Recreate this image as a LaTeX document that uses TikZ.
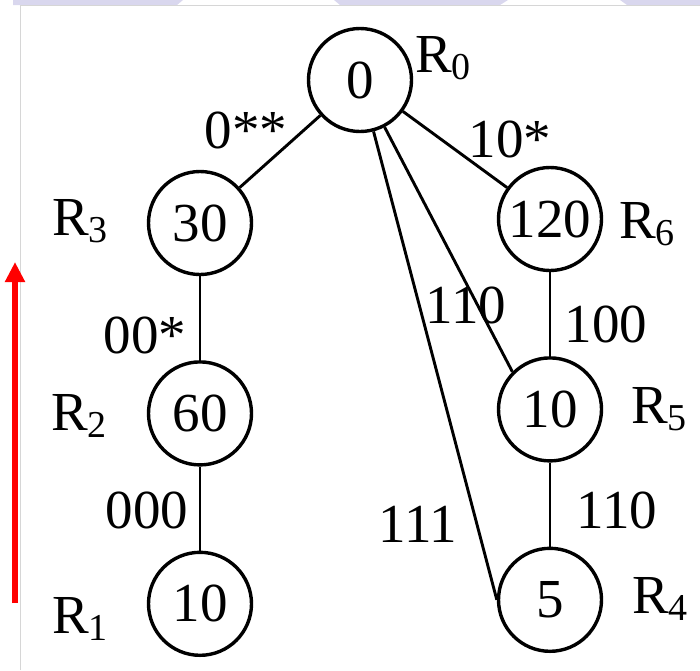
\documentclass[tikz,border=0pt]{standalone}
\usepackage{fontspec}
\setmainfont{Liberation Serif}
\usetikzlibrary{arrows.meta,positioning}
\definecolor{TabLav}{HTML}{D9D7EE}
\definecolor{FrameGray}{HTML}{D6D6D6}
\newcommand{\rsub}[1]{R\raisebox{-7pt}{\fontsize{38}{40}\selectfont #1}}
\tikzset{>=Stealth,every node/.style={font=\fontsize{55}{60}\selectfont},
 rnode/.style={circle,draw,line width=3.4pt,minimum size=103pt,inner sep=0pt},
 link/.style={draw,line width=2.9pt},tag/.style={anchor=base west,inner sep=0pt},
 bits/.style={anchor=base,inner sep=0pt}}

\begin{document}
\begin{tikzpicture}[x=1pt,y=-1pt,node distance=84pt]
\useasboundingbox (0,0) rectangle (700,670);
% slide tabs and frame
\fill[TabLav] (13,0) -- (183,0) -- (177,5) -- (13,5) -- cycle;
\fill[TabLav] (334,0) -- (508,0) -- (500,5) -- (340,5) -- cycle;
\fill[TabLav] (620,0) -- (700,0) -- (700,5) -- (627,5) -- cycle;
\draw[FrameGray,line width=1pt] (20.5,670) -- (20.5,5.5) -- (700,5.5);
% tree
\node[rnode] (n0) at (360,80) {0};
\node[rnode] (n30) at (200,223) {30};
\node[rnode,below=of n30] (n60) {60};
\node[rnode,below=of n60] (n10l) {10};
\node[rnode] (n120) at (550,219) {120};
\node[rnode,below=of n120] (n10r) {10};
\node[rnode,below=of n10r] (n5) {5};
\node[tag] (r0) at (415,72) {\rsub{0}};
\node[tag] (r3) at (52,235) {\rsub{3}};
\node[tag] (r2) at (51,430) {\rsub{2}};
\node[tag] (r1) at (52,633) {\rsub{1}};
\node[tag] (r6) at (619,238) {\rsub{6}};
\node[tag] (r5) at (631,423) {\rsub{5}};
\node[tag] (r4) at (632,613) {\rsub{4}};
\draw[link] (n0) -- (n30);
\draw[link] (n0) -- (n120);
\draw[link] (n0) -- (n10r.north west);
\draw[link] (n0) -- (n5.west);
\draw[link] (n30) -- (n60);
\draw[link] (n60) -- (n10l);
\draw[link] (n120) -- (n10r);
\draw[link] (n10r) -- (n5);
\node[bits] (l0) at (246,148) {0**};
\node[bits] (l10) at (510,157) {10*};
\node[bits] (l00) at (145,353) {00*};
\node[bits] (l110a) at (466,323) {110};
\node[bits] (l100) at (606,342) {100};
\node[bits] (l000) at (147,528) {000};
\node[bits] (l111) at (418,542) {111};
\node[bits] (l110b) at (617,528) {110};
% direction
\coordinate (up0) at (15,603);
\coordinate (up1) at (15,262);
\draw[red,line width=6pt,-{Triangle[width=19pt,length=20pt]}] (up0) -- (up1);
\end{tikzpicture}
\end{document}
